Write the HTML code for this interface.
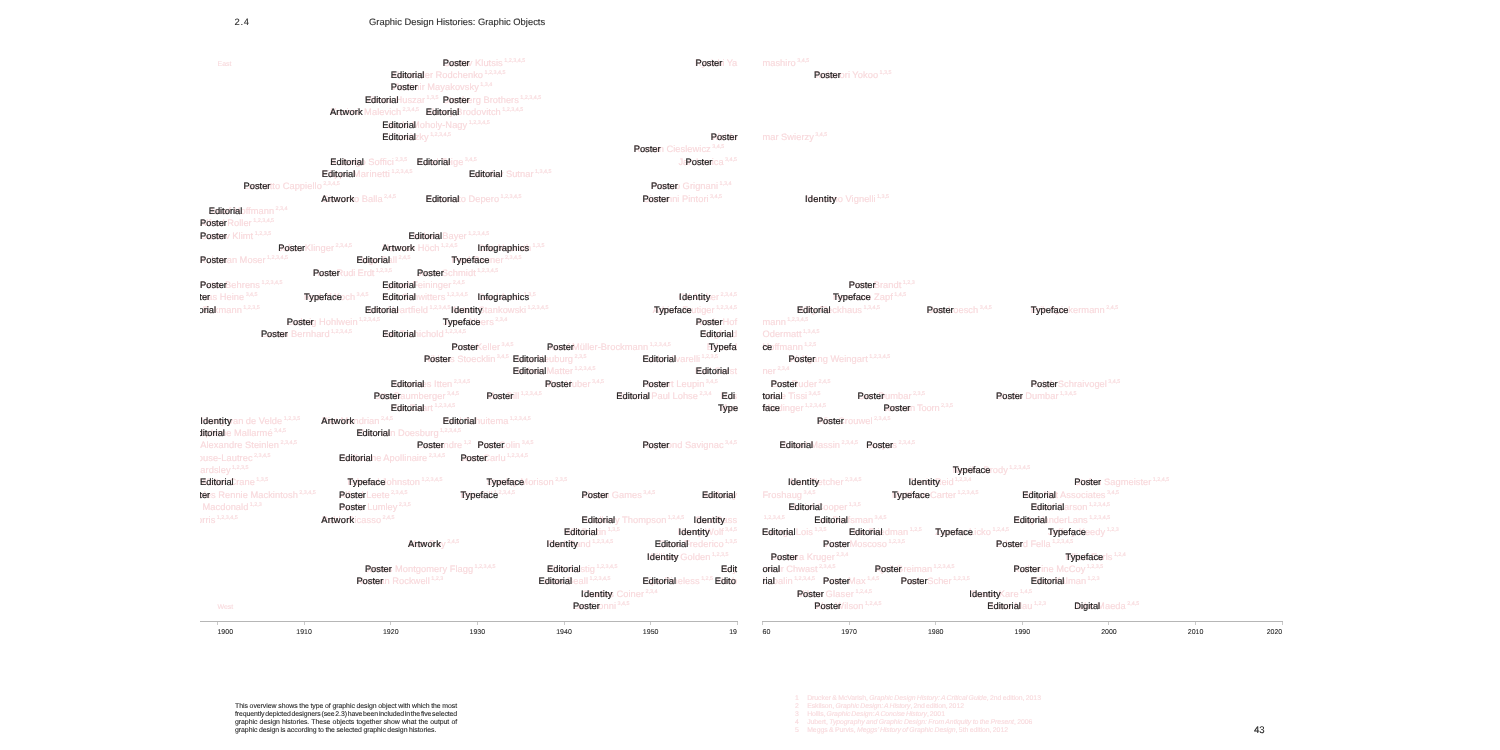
<!DOCTYPE html>
<html lang="en">
<head>
<meta charset="utf-8">
<title>Graphic Design Histories: Graphic Objects</title>
<style>
*{margin:0;padding:0;box-sizing:border-box}
html,body{width:1500px;height:750px;background:#fff;overflow:hidden}
body{position:relative;font-family:"Liberation Sans",Arial,Helvetica,sans-serif;color:#222;text-rendering:geometricPrecision}
.pg{position:absolute;top:0;height:750px;overflow:hidden}
#pl{left:200.0px;width:537.8px}
#pr{left:761.9px;width:521.0px}
.n,.l{position:absolute;white-space:nowrap;font-size:9.3px;line-height:12px;height:12px}
.n{color:#f8d9dc;-webkit-text-stroke:.14px #f8d9dc;letter-spacing:.05px;word-spacing:-.15px}
.n sup{font-size:5.4px;line-height:0;vertical-align:4px;margin-left:1.4px;letter-spacing:0}
.n.e sup{position:absolute;left:100%;vertical-align:0;line-height:0;top:4.35px}
.l{color:#1a1a1a;-webkit-text-stroke:.2px #1a1a1a}
.ar{letter-spacing:.22px;margin-left:-.4px}
.id{letter-spacing:.2px;margin-left:-.5px}
.in{letter-spacing:.09px}
.ax{position:absolute;height:1px;background:#b6b6b6;top:621px}
.tk{position:absolute;width:1px;height:3px;background:#cacaca;top:622px}
.yl{position:absolute;top:628px;font-size:7px;line-height:9px;height:9px;color:#2a2a2a;-webkit-text-stroke:.1px #2a2a2a;white-space:nowrap}
.hd{position:absolute;top:16px;font-size:9.4px;line-height:12px;height:12px;color:#2e2e2e;-webkit-text-stroke:.12px #2e2e2e;white-space:nowrap}
.ew{position:absolute;font-size:7px;line-height:9px;height:9px;color:#f8dadd;-webkit-text-stroke:.1px #f8dadd;white-space:nowrap}
.cp,.rf{position:absolute;font-size:6.9px;line-height:8px;height:8px;white-space:nowrap}
.cp{left:235px;color:#262626;-webkit-text-stroke:.1px #262626}
.rf{left:807.2px;color:#f8dadd;-webkit-text-stroke:.1px #f8dadd}
.rf b{position:absolute;left:-12.2px;font-weight:normal;letter-spacing:0}
#pn{position:absolute;left:1253.9px;top:725px;font-size:9.6px;line-height:12px;height:12px;color:#222;-webkit-text-stroke:.12px #222}
</style>
</head>
<body>
<div class="hd" style="left:234.6px;letter-spacing:.7px">2.4</div>
<div class="hd" style="left:369px">Graphic Design Histories: Graphic Objects</div>
<div class="pg" id="pl">
<div class="ew" style="left:17.47px;top:60.00px">East</div>
<div class="ew" style="left:17.47px;top:603.00px">West</div>
<div class="n" style="left:242.80px;top:57px">Gustav Klutsis<sup>1,2,3,4,5</sup></div>
<div class="n" style="right:0.70px;top:57px;letter-spacing:-0.12px">Ryuichi Ya</div>
<div class="n" style="left:190.80px;top:69px">Alexander Rodchenko<sup>1,2,3,4,5</sup></div>
<div class="n" style="left:190.80px;top:81px">Vladimir Mayakovsky<sup>1,3,4</sup></div>
<div class="n" style="left:164.90px;top:94px">Vilmos Huszar<sup>1,3,5</sup></div>
<div class="n" style="left:242.80px;top:94px">Stenberg Brothers<sup>1,2,3,4,5</sup></div>
<div class="n" style="left:130.30px;top:106px">Kazimir Malevich<sup>2,3,4,5</sup></div>
<div class="n" style="left:225.70px;top:106px">Alexey Brodovitch<sup>1,2,3,4,5</sup></div>
<div class="n" style="left:182.30px;top:119px">László Moholy-Nagy<sup>1,2,3,4,5</sup></div>
<div class="n" style="left:182.30px;top:131px">El Lissitzky<sup>1,2,3,4,5</sup></div>
<div class="n" style="right:0.70px;top:131px">Walde</div>
<div class="n" style="left:433.70px;top:143px">Roman Cieslewicz<sup>3,4,5</sup></div>
<div class="n" style="left:130.30px;top:156px">Ardengo Soffici<sup>2,3,5</sup></div>
<div class="n" style="left:216.70px;top:156px">Karel Teige<sup>3,4,5</sup></div>
<div class="n" style="right:0.70px;top:156px">Jan Lenica<sup>3,4,5</sup></div>
<div class="n" style="left:121.70px;top:168px;letter-spacing:0.17px">Filippo Marinetti<sup>1,2,3,4,5</sup></div>
<div class="n" style="left:268.90px;top:168px">Ladislav Sutnar<sup>1,3,4,5</sup></div>
<div class="n" style="left:43.60px;top:180px">Leonetto Cappiello<sup>2,3,4,5</sup></div>
<div class="n" style="left:450.90px;top:180px">Franco Grignani<sup>1,3,4</sup></div>
<div class="n" style="left:121.70px;top:193px">Giacomo Balla<sup>2,4,5</sup></div>
<div class="n" style="left:225.70px;top:193px">Fortunato Depero<sup>1,2,3,4,5</sup></div>
<div class="n" style="left:442.40px;top:193px">Giovanni Pintori<sup>3,4,5</sup></div>
<div class="n" style="left:8.70px;top:205px">Josef Hoffmann<sup>2,3,4</sup></div>
<div class="n" style="left:0.10px;top:217px">Alfred Roller<sup>1,2,3,4,5</sup></div>
<div class="n" style="left:0.10px;top:230px">Gustav Klimt<sup>1,2,3,5</sup></div>
<div class="n" style="left:208.40px;top:230px">Herbert Bayer<sup>1,2,3,4,5</sup></div>
<div class="n" style="left:78.30px;top:242px">Julius Klinger<sup>2,3,4,5</sup></div>
<div class="n" style="left:182.30px;top:242px">Hannah Höch<sup>1,2,4,5</sup></div>
<div class="n" style="left:277.50px;top:242px">Otto Neurath<sup>1,3,5</sup></div>
<div class="n" style="left:0.10px;top:254px">Koloman Moser<sup>1,2,3,4,5</sup></div>
<div class="n" style="left:156.40px;top:254px">Hugo Ball<sup>2,4,5</sup></div>
<div class="n" style="left:251.60px;top:254px">Paul Renner<sup>2,3,4,5</sup></div>
<div class="n" style="left:112.90px;top:267px;letter-spacing:-0.1px">Hans Rudi Erdt<sup>1,2,3,5</sup></div>
<div class="n" style="left:216.90px;top:267px">Joost Schmidt<sup>1,2,3,4,5</sup></div>
<div class="n" style="left:0.10px;top:279px">Peter Behrens<sup>1,2,3,4,5</sup></div>
<div class="n" style="left:182.30px;top:279px">Lyonel Feininger<sup>2,4,5</sup></div>
<div class="n" style="left:-16.70px;top:291px">Thomas Heine<sup>3,4,5</sup></div>
<div class="n" style="left:104.10px;top:291px">Rudolf Koch<sup>3,4,5</sup></div>
<div class="n" style="left:182.30px;top:291px">Kurt Schwitters<sup>1,2,3,4,5</sup></div>
<div class="n" style="left:277.50px;top:291px">Gerd Arntz<sup>1,3,5</sup></div>
<div class="n" style="right:0.70px;top:291px">Otl Aicher<sup>2,3,4,5</sup></div>
<div class="n" style="left:-17.50px;top:304px">Otto Eckmann<sup>1,2,3,5</sup></div>
<div class="n" style="left:164.90px;top:304px">John Heartfield<sup>1,2,3,4,5</sup></div>
<div class="n" style="left:251.60px;top:304px">Anton Stankowski<sup>1,2,3,4,5</sup></div>
<div class="n" style="right:0.70px;top:304px">Adrian Frutiger<sup>1,2,3,4,5</sup></div>
<div class="n" style="left:86.80px;top:316px">Ludwig Hohlwein<sup>1,2,3,4,5</sup></div>
<div class="n" style="left:242.80px;top:316px">Josef Albers<sup>2,3,4</sup></div>
<div class="n" style="right:0.70px;top:316px">Armin Hof</div>
<div class="n" style="left:60.90px;top:328px">Lucian Bernhard<sup>1,2,3,4,5</sup></div>
<div class="n" style="left:182.30px;top:328px">Jan Tschichold<sup>1,2,3,4,5</sup></div>
<div class="n" style="right:0.70px;top:328px">Siegfried</div>
<div class="n" style="left:251.60px;top:341px">Ernst Keller<sup>3,4,5</sup></div>
<div class="n" style="left:347.10px;top:341px">Josef Müller-Brockmann<sup>1,2,3,4,5</sup></div>
<div class="n" style="right:0.70px;top:341px">Eduard</div>
<div class="n" style="left:223.90px;top:353px">Niklaus Stoecklin<sup>3,4,5</sup></div>
<div class="n" style="left:312.70px;top:353px">Hans Neuburg<sup>2,3,5</sup></div>
<div class="n" style="left:442.40px;top:353px">Carlo Vivarelli<sup>1,2,3,5</sup></div>
<div class="n" style="left:312.70px;top:365px">Herbert Matter<sup>1,2,3,4,5</sup></div>
<div class="n" style="right:0.70px;top:365px">Karl Gerst</div>
<div class="n" style="left:190.80px;top:378px">Johannes Itten<sup>2,3,4,5</sup></div>
<div class="n" style="left:344.90px;top:378px">Max Huber<sup>3,4,5</sup></div>
<div class="n" style="left:442.40px;top:378px">Herbert Leupin<sup>3,4,5</sup></div>
<div class="n" style="left:173.70px;top:390px">Otto Baumberger<sup>3,4,5</sup></div>
<div class="n" style="left:286.50px;top:390px">Max Bill<sup>1,2,3,4,5</sup></div>
<div class="n" style="left:416.30px;top:390px">Richard Paul Lohse<sup>2,3,4</sup></div>
<div class="n" style="right:0.70px;top:390px">Ros</div>
<div class="n" style="left:190.80px;top:402px">Piet Zwart<sup>1,2,3,4,5</sup></div>
<div class="n" style="right:0.70px;top:402px">Max</div>
<div class="n" style="left:0.70px;top:415px">Henry van de Velde<sup>1,2,3,5</sup></div>
<div class="n" style="left:121.70px;top:415px">Piet Mondrian<sup>2,4,5</sup></div>
<div class="n" style="left:242.80px;top:415px">Paul Schuitema<sup>1,2,3,4,5</sup></div>
<div class="n" style="left:-8.70px;top:427px">Stéphane Mallarmé<sup>3,4,5</sup></div>
<div class="n" style="left:156.40px;top:427px">Theo van Doesburg<sup>1,2,3,4,5</sup></div>
<div class="n e" style="right:458.80px;top:439px">Théophile Alexandre Steinlen<sup>2,3,4,5</sup></div>
<div class="n" style="left:216.90px;top:439px">Cassandre<sup>1,2</sup></div>
<div class="n" style="left:277.50px;top:439px">Paul Colin<sup>3,4,5</sup></div>
<div class="n" style="left:442.40px;top:439px">Raymond Savignac<sup>3,4,5</sup></div>
<div class="n e" style="right:485.20px;top:452px">Henri de Toulouse-Lautrec<sup>2,3,4,5</sup></div>
<div class="n" style="left:139.10px;top:452px">Guillaume Apollinaire<sup>2,3,4,5</sup></div>
<div class="n" style="left:260.40px;top:452px">Jean Carlu<sup>1,2,3,4,5</sup></div>
<div class="n e" style="right:507.20px;top:464px">Aubrey Beardsley<sup>1,2,3,5</sup></div>
<div class="n" style="left:0.10px;top:476px">Walter Crane<sup>1,3,5</sup></div>
<div class="n" style="left:147.60px;top:476px">Edward Johnston<sup>1,2,3,4,5</sup></div>
<div class="n" style="left:286.50px;top:476px">Stanley Morison<sup>2,3,5</sup></div>
<div class="n" style="left:-16.70px;top:489px">Charles Rennie Mackintosh<sup>2,3,4,5</sup></div>
<div class="n" style="left:139.10px;top:489px">Alfred Leete<sup>2,3,4,5</sup></div>
<div class="n" style="left:260.40px;top:489px">Eric Gill<sup>1,2,3,4,5</sup></div>
<div class="n" style="left:381.60px;top:489px">Abram Games<sup>3,4,5</sup></div>
<div class="n" style="right:0.70px;top:489px">Anthony</div>
<div class="n e" style="right:489.40px;top:501px">Margaret Macdonald<sup>1,2,3</sup></div>
<div class="n" style="left:139.10px;top:501px">Savile Lumley<sup>2,3,5</sup></div>
<div class="n e" style="right:522.40px;top:514px">William Morris<sup>1,2,3,4,5</sup></div>
<div class="n" style="left:121.70px;top:514px">Pablo Picasso<sup>2,4,5</sup></div>
<div class="n" style="left:381.60px;top:514px">Bradbury Thompson<sup>1,2,4,5</sup></div>
<div class="n" style="right:0.70px;top:514px">Saul Bass</div>
<div class="n" style="left:364.10px;top:526px">Will Burtin<sup>1,3,5</sup></div>
<div class="n" style="right:0.70px;top:526px">Henry Wolf<sup>3,4,5</sup></div>
<div class="n" style="left:208.40px;top:538px">Man Ray<sup>2,4,5</sup></div>
<div class="n" style="left:347.10px;top:538px">Paul Rand<sup>1,2,3,4,5</sup></div>
<div class="n" style="right:0.70px;top:538px">Gene Frederico<sup>1,3,5</sup></div>
<div class="n" style="left:447.50px;top:551px">William Golden<sup>1,2,3,5</sup></div>
<div class="n" style="left:164.90px;top:563px">James Montgomery Flagg<sup>1,2,3,4,5</sup></div>
<div class="n" style="left:347.10px;top:563px">Alvin Lustig<sup>1,2,3,4,5</sup></div>
<div class="n" style="right:0.70px;top:563px">Sey</div>
<div class="n" style="left:156.40px;top:575px">Norman Rockwell<sup>1,2,3</sup></div>
<div class="n" style="left:338.50px;top:575px">Lester Beall<sup>1,2,3,4,5</sup></div>
<div class="n" style="left:442.40px;top:575px">Cipe Pineless<sup>1,2,5</sup></div>
<div class="n" style="right:0.70px;top:575px">Herb</div>
<div class="n" style="left:381.60px;top:588px">Charles Coiner<sup>2,3,4</sup></div>
<div class="n" style="left:372.90px;top:600px">Leo Lionni<sup>3,4,5</sup></div>
<div class="l po" style="left:242.80px;top:57px">Poster</div>
<div class="l po" style="left:495.50px;top:57px">Poster</div>
<div class="l ed" style="left:190.80px;top:69px">Editorial</div>
<div class="l po" style="left:190.80px;top:81px">Poster</div>
<div class="l ed" style="left:164.90px;top:94px">Editorial</div>
<div class="l po" style="left:242.80px;top:94px">Poster</div>
<div class="l ar" style="left:130.30px;top:106px">Artwork</div>
<div class="l ed" style="left:225.70px;top:106px">Editorial</div>
<div class="l ed" style="left:182.30px;top:119px">Editorial</div>
<div class="l ed" style="left:182.30px;top:131px">Editorial</div>
<div class="l po" style="left:510.70px;top:131px">Poster</div>
<div class="l po" style="left:433.70px;top:143px">Poster</div>
<div class="l ed" style="left:130.30px;top:156px">Editorial</div>
<div class="l ed" style="left:216.70px;top:156px">Editorial</div>
<div class="l po" style="left:485.60px;top:156px">Poster</div>
<div class="l ed" style="left:121.70px;top:168px">Editorial</div>
<div class="l ed" style="left:268.90px;top:168px">Editorial</div>
<div class="l po" style="left:43.60px;top:180px">Poster</div>
<div class="l po" style="left:450.90px;top:180px">Poster</div>
<div class="l ar" style="left:121.70px;top:193px">Artwork</div>
<div class="l ed" style="left:225.70px;top:193px">Editorial</div>
<div class="l po" style="left:442.40px;top:193px">Poster</div>
<div class="l ed" style="left:8.70px;top:205px">Editorial</div>
<div class="l po" style="left:0.10px;top:217px">Poster</div>
<div class="l po" style="left:0.10px;top:230px">Poster</div>
<div class="l ed" style="left:208.40px;top:230px">Editorial</div>
<div class="l po" style="left:78.30px;top:242px">Poster</div>
<div class="l ar" style="left:182.30px;top:242px">Artwork</div>
<div class="l in" style="left:277.50px;top:242px">Infographics</div>
<div class="l po" style="left:0.10px;top:254px">Poster</div>
<div class="l ed" style="left:156.40px;top:254px">Editorial</div>
<div class="l ty" style="left:251.60px;top:254px">Typeface</div>
<div class="l po" style="left:112.90px;top:267px">Poster</div>
<div class="l po" style="left:216.90px;top:267px">Poster</div>
<div class="l po" style="left:0.10px;top:279px">Poster</div>
<div class="l ed" style="left:182.30px;top:279px">Editorial</div>
<div class="l po" style="left:-16.70px;top:291px">Poster</div>
<div class="l ty" style="left:104.10px;top:291px">Typeface</div>
<div class="l ed" style="left:182.30px;top:291px">Editorial</div>
<div class="l in" style="left:277.50px;top:291px">Infographics</div>
<div class="l id" style="left:479.60px;top:291px">Identity</div>
<div class="l ed" style="left:-17.50px;top:304px">Editorial</div>
<div class="l ed" style="left:164.90px;top:304px">Editorial</div>
<div class="l id" style="left:251.60px;top:304px">Identity</div>
<div class="l ty" style="left:454.00px;top:304px">Typeface</div>
<div class="l po" style="left:86.80px;top:316px">Poster</div>
<div class="l ty" style="left:242.80px;top:316px">Typeface</div>
<div class="l po" style="left:495.70px;top:316px">Poster</div>
<div class="l po" style="left:60.90px;top:328px">Poster</div>
<div class="l ed" style="left:182.30px;top:328px">Editorial</div>
<div class="l ed" style="left:500.00px;top:328px">Editorial</div>
<div class="l po" style="left:251.60px;top:341px">Poster</div>
<div class="l po" style="left:347.10px;top:341px">Poster</div>
<div class="l ty" style="left:508.70px;top:341px">Typefa</div>
<div class="l po" style="left:223.90px;top:353px">Poster</div>
<div class="l ed" style="left:312.70px;top:353px">Editorial</div>
<div class="l ed" style="left:442.40px;top:353px">Editorial</div>
<div class="l ed" style="left:312.70px;top:365px">Editorial</div>
<div class="l ed" style="left:495.70px;top:365px">Editorial</div>
<div class="l ed" style="left:190.80px;top:378px">Editorial</div>
<div class="l po" style="left:344.90px;top:378px">Poster</div>
<div class="l po" style="left:442.40px;top:378px">Poster</div>
<div class="l po" style="left:173.70px;top:390px">Poster</div>
<div class="l po" style="left:286.50px;top:390px">Poster</div>
<div class="l ed" style="left:416.30px;top:390px">Editorial</div>
<div class="l ed" style="left:521.60px;top:390px">Edi</div>
<div class="l ed" style="left:190.80px;top:402px">Editorial</div>
<div class="l ty" style="left:517.90px;top:402px">Type</div>
<div class="l id" style="left:0.70px;top:415px">Identity</div>
<div class="l ar" style="left:121.70px;top:415px">Artwork</div>
<div class="l ed" style="left:242.80px;top:415px">Editorial</div>
<div class="l ed" style="left:-8.70px;top:427px">Editorial</div>
<div class="l ed" style="left:156.40px;top:427px">Editorial</div>
<div class="l po" style="left:216.90px;top:439px">Poster</div>
<div class="l po" style="left:277.50px;top:439px">Poster</div>
<div class="l po" style="left:442.40px;top:439px">Poster</div>
<div class="l ed" style="left:139.10px;top:452px">Editorial</div>
<div class="l po" style="left:260.40px;top:452px">Poster</div>
<div class="l ed" style="left:0.10px;top:476px">Editorial</div>
<div class="l ty" style="left:147.60px;top:476px">Typeface</div>
<div class="l ty" style="left:286.50px;top:476px">Typeface</div>
<div class="l po" style="left:-16.70px;top:489px">Poster</div>
<div class="l po" style="left:139.10px;top:489px">Poster</div>
<div class="l ty" style="left:260.40px;top:489px">Typeface</div>
<div class="l po" style="left:381.60px;top:489px">Poster</div>
<div class="l ed" style="left:501.90px;top:489px">Editorial</div>
<div class="l po" style="left:139.10px;top:501px">Poster</div>
<div class="l ar" style="left:121.70px;top:514px">Artwork</div>
<div class="l ed" style="left:381.60px;top:514px">Editorial</div>
<div class="l id" style="left:494.10px;top:514px">Identity</div>
<div class="l ed" style="left:364.10px;top:526px">Editorial</div>
<div class="l id" style="left:478.90px;top:526px">Identity</div>
<div class="l ar" style="left:208.40px;top:538px">Artwork</div>
<div class="l id" style="left:347.10px;top:538px">Identity</div>
<div class="l ed" style="left:454.70px;top:538px">Editorial</div>
<div class="l id" style="left:447.50px;top:551px">Identity</div>
<div class="l po" style="left:164.90px;top:563px">Poster</div>
<div class="l ed" style="left:347.10px;top:563px">Editorial</div>
<div class="l ed" style="left:521.10px;top:563px">Edit</div>
<div class="l po" style="left:156.40px;top:575px">Poster</div>
<div class="l ed" style="left:338.50px;top:575px">Editorial</div>
<div class="l ed" style="left:442.40px;top:575px">Editorial</div>
<div class="l ed" style="left:514.70px;top:575px">Edito</div>
<div class="l id" style="left:381.60px;top:588px">Identity</div>
<div class="l po" style="left:372.90px;top:600px">Poster</div>
<div class="ax" style="left:0;width:537.80px"></div>
<div class="tk" style="left:16.97px"></div>
<div class="yl" style="left:17.47px">1900</div>
<div class="tk" style="left:103.61px"></div>
<div class="yl" style="left:104.11px;transform:translateX(-50%)">1910</div>
<div class="tk" style="left:190.25px"></div>
<div class="yl" style="left:190.75px;transform:translateX(-50%)">1920</div>
<div class="tk" style="left:276.89px"></div>
<div class="yl" style="left:277.39px;transform:translateX(-50%)">1930</div>
<div class="tk" style="left:363.53px"></div>
<div class="yl" style="left:364.03px;transform:translateX(-50%)">1940</div>
<div class="tk" style="left:450.17px"></div>
<div class="yl" style="left:450.67px;transform:translateX(-50%)">1950</div>
<div class="tk" style="left:536.80px"></div>
<div class="yl" style="right:0.8px">19</div>
</div>
<div class="pg" id="pr">
<div class="n" style="left:0.50px;top:57px">mashiro<sup>3,4,5</sup></div>
<div class="n" style="left:0.50px;top:131px">mar Swierzy<sup>3,4,5</sup></div>
<div class="n" style="left:0.50px;top:316px">mann<sup>1,2,3,4,5</sup></div>
<div class="n" style="left:0.50px;top:328px">Odermatt<sup>1,3,4,5</sup></div>
<div class="n" style="left:0.50px;top:341px">Hoffmann<sup>1,2,5</sup></div>
<div class="n" style="left:0.50px;top:365px">ner<sup>2,3,4</sup></div>
<div class="n" style="left:0.50px;top:390px">marie Tissi<sup>3,4,5</sup></div>
<div class="n" style="left:0.50px;top:402px">Miedinger<sup>1,2,3,4,5</sup></div>
<div class="n" style="left:0.50px;top:489px">Froshaug<sup>3,4,5</sup></div>
<div class="n" style="left:0.50px;top:514px"><sup>1,2,3,4,5</sup></div>
<div class="n" style="left:0.50px;top:563px">mour Chwast<sup>2,3,4,5</sup></div>
<div class="n" style="left:0.50px;top:575px">Lubalin<sup>1,2,3,4,5</sup></div>
<div class="n" style="left:52.10px;top:69px">Tadanori Yokoo<sup>1,3,5</sup></div>
<div class="n" style="left:43.60px;top:193px">Massimo Vignelli<sup>1,3,5</sup></div>
<div class="n" style="left:86.80px;top:279px">Peter Brandt<sup>1,2,3</sup></div>
<div class="n" style="left:71.00px;top:291px">Hermann Zapf<sup>1,4,5</sup></div>
<div class="n" style="left:35.00px;top:304px">Willy Fleckhaus<sup>1,3,4,5</sup></div>
<div class="n" style="left:164.90px;top:304px">Uwe Loesch<sup>3,4,5</sup></div>
<div class="n" style="left:268.90px;top:304px">Erik Spiekermann<sup>2,4,5</sup></div>
<div class="n" style="left:26.50px;top:353px">Wolfgang Weingart<sup>1,2,3,4,5</sup></div>
<div class="n" style="left:8.90px;top:378px">Emil Ruder<sup>2,4,5</sup></div>
<div class="n" style="left:268.90px;top:378px">Ralph Schraivogel<sup>3,4,5</sup></div>
<div class="n" style="left:95.60px;top:390px">Gert Dumbar<sup>2,3,5</sup></div>
<div class="n" style="left:234.20px;top:390px">Studio Dumbar<sup>1,3,4,5</sup></div>
<div class="n" style="left:121.70px;top:402px;letter-spacing:-0.15px">Jan van Toorn<sup>2,3,5</sup></div>
<div class="n" style="left:55.00px;top:415px">Wim Crouwel<sup>2,3,4,5</sup></div>
<div class="n" style="left:17.70px;top:439px">Robert Massin<sup>2,3,4,5</sup></div>
<div class="n" style="left:104.40px;top:439px">Grapus<sup>2,3,4,5</sup></div>
<div class="n" style="left:190.80px;top:464px">Neville Brody<sup>1,2,3,4,5</sup></div>
<div class="n" style="left:26.50px;top:476px">Alan Fletcher<sup>2,3,4,5</sup></div>
<div class="n" style="left:147.20px;top:476px;letter-spacing:-0.2px">Jamie Reid<sup>1,2,3,4</sup></div>
<div class="n" style="left:312.40px;top:476px">Stefan Sagmeister<sup>1,2,4,5</sup></div>
<div class="n" style="left:130.20px;top:489px">Matthew Carter<sup>1,2,3,4,5</sup></div>
<div class="n" style="left:260.40px;top:489px">Why Not Associates<sup>3,4,5</sup></div>
<div class="n" style="left:26.50px;top:501px">Muriel Cooper<sup>1,3,5</sup></div>
<div class="n" style="left:268.90px;top:501px">David Carson<sup>1,2,3,4,5</sup></div>
<div class="n" style="left:52.40px;top:514px">Lou Dorfsman<sup>3,4,5</sup></div>
<div class="n" style="left:251.60px;top:514px">Rudy VanderLans<sup>1,2,3,4,5</sup></div>
<div class="n" style="left:0.10px;top:526px">George Lois<sup>1,3,5</sup></div>
<div class="n" style="left:87.00px;top:526px">Dan Friedman<sup>1,2,5</sup></div>
<div class="n" style="left:173.40px;top:526px">Zuzana Licko<sup>1,2,4,5</sup></div>
<div class="n" style="left:286.20px;top:526px">Jeffery Keedy<sup>1,2,3</sup></div>
<div class="n" style="left:61.20px;top:538px">Victor Moscoso<sup>1,2,3,5</sup></div>
<div class="n" style="left:234.20px;top:538px">Edward Fella<sup>1,2,3,4,5</sup></div>
<div class="n" style="left:8.90px;top:551px">Barbara Kruger<sup>2,3,4</sup></div>
<div class="n" style="left:303.60px;top:551px">Elliott Earls<sup>1,2,4</sup></div>
<div class="n" style="left:112.90px;top:563px">April Greiman<sup>1,2,3,4,5</sup></div>
<div class="n" style="left:251.60px;top:563px">Katherine McCoy<sup>1,2,3,5</sup></div>
<div class="n" style="left:61.20px;top:575px">Peter Max<sup>1,4,5</sup></div>
<div class="n" style="left:138.80px;top:575px">Paula Scher<sup>1,2,3,5</sup></div>
<div class="n" style="left:268.90px;top:575px">Tibor Kalman<sup>1,2,3</sup></div>
<div class="n" style="left:35.00px;top:588px;letter-spacing:0.2px">Milton Glaser<sup>1,2,4,5</sup></div>
<div class="n" style="left:207.80px;top:588px">Susan Kare<sup>1,4,5</sup></div>
<div class="n" style="left:52.40px;top:600px">Wes Wilson<sup>1,2,4,5</sup></div>
<div class="n" style="left:225.40px;top:600px">Bruce Mau<sup>1,2,3</sup></div>
<div class="n" style="left:312.40px;top:600px">John Maeda<sup>2,4,5</sup></div>
<div class="l ty" style="left:0.50px;top:341px">ce</div>
<div class="l ed" style="left:0.50px;top:390px">torial</div>
<div class="l ty" style="left:0.50px;top:402px">face</div>
<div class="l ed" style="left:0.50px;top:563px">orial</div>
<div class="l ed" style="left:0.50px;top:575px">rial</div>
<div class="l po" style="left:52.10px;top:69px">Poster</div>
<div class="l id" style="left:43.60px;top:193px">Identity</div>
<div class="l po" style="left:86.80px;top:279px">Poster</div>
<div class="l ty" style="left:71.00px;top:291px">Typeface</div>
<div class="l ed" style="left:35.00px;top:304px">Editorial</div>
<div class="l po" style="left:164.90px;top:304px">Poster</div>
<div class="l ty" style="left:268.90px;top:304px">Typeface</div>
<div class="l po" style="left:26.50px;top:353px">Poster</div>
<div class="l po" style="left:8.90px;top:378px">Poster</div>
<div class="l po" style="left:268.90px;top:378px">Poster</div>
<div class="l po" style="left:95.60px;top:390px">Poster</div>
<div class="l po" style="left:234.20px;top:390px">Poster</div>
<div class="l po" style="left:121.70px;top:402px">Poster</div>
<div class="l po" style="left:55.00px;top:415px">Poster</div>
<div class="l ed" style="left:17.70px;top:439px">Editorial</div>
<div class="l po" style="left:104.40px;top:439px">Poster</div>
<div class="l ty" style="left:190.80px;top:464px">Typeface</div>
<div class="l id" style="left:26.50px;top:476px">Identity</div>
<div class="l id" style="left:147.20px;top:476px">Identity</div>
<div class="l po" style="left:312.40px;top:476px">Poster</div>
<div class="l ty" style="left:130.20px;top:489px">Typeface</div>
<div class="l ed" style="left:260.40px;top:489px">Editorial</div>
<div class="l ed" style="left:26.50px;top:501px">Editorial</div>
<div class="l ed" style="left:268.90px;top:501px">Editorial</div>
<div class="l ed" style="left:52.40px;top:514px">Editorial</div>
<div class="l ed" style="left:251.60px;top:514px">Editorial</div>
<div class="l ed" style="left:0.10px;top:526px">Editorial</div>
<div class="l ed" style="left:87.00px;top:526px">Editorial</div>
<div class="l ty" style="left:173.40px;top:526px">Typeface</div>
<div class="l ty" style="left:286.20px;top:526px">Typeface</div>
<div class="l po" style="left:61.20px;top:538px">Poster</div>
<div class="l po" style="left:234.20px;top:538px">Poster</div>
<div class="l po" style="left:8.90px;top:551px">Poster</div>
<div class="l ty" style="left:303.60px;top:551px">Typeface</div>
<div class="l po" style="left:112.90px;top:563px">Poster</div>
<div class="l po" style="left:251.60px;top:563px">Poster</div>
<div class="l po" style="left:61.20px;top:575px">Poster</div>
<div class="l po" style="left:138.80px;top:575px">Poster</div>
<div class="l ed" style="left:268.90px;top:575px">Editorial</div>
<div class="l po" style="left:35.00px;top:588px">Poster</div>
<div class="l id" style="left:207.80px;top:588px">Identity</div>
<div class="l po" style="left:52.40px;top:600px">Poster</div>
<div class="l ed" style="left:225.40px;top:600px">Editorial</div>
<div class="l di" style="left:312.40px;top:600px">Digital</div>
<div class="ax" style="left:0;width:521.00px"></div>
<div class="tk" style="left:0.01px"></div>
<div class="yl" style="left:0.6px">60</div>
<div class="tk" style="left:86.65px"></div>
<div class="yl" style="left:87.15px;transform:translateX(-50%)">1970</div>
<div class="tk" style="left:173.29px"></div>
<div class="yl" style="left:173.79px;transform:translateX(-50%)">1980</div>
<div class="tk" style="left:259.93px"></div>
<div class="yl" style="left:260.43px;transform:translateX(-50%)">1990</div>
<div class="tk" style="left:346.57px"></div>
<div class="yl" style="left:347.07px;transform:translateX(-50%)">2000</div>
<div class="tk" style="left:433.21px"></div>
<div class="yl" style="left:433.71px;transform:translateX(-50%)">2010</div>
<div class="tk" style="left:519.85px"></div>
<div class="yl" style="right:0.7px">2020</div>
</div>
<div class="cp" style="top:703px;letter-spacing:-0.030px;word-spacing:-0.198px">This overview shows the type of graphic design object with which the most</div>
<div class="cp" style="top:711px;letter-spacing:-0.080px;word-spacing:-1.033px">frequently depicted designers (see 2.3) have been included in the five selected</div>
<div class="cp" style="top:719px;letter-spacing:-0.030px;word-spacing:0.344px">graphic design histories. These objects together show what the output of</div>
<div class="cp" style="top:727px;letter-spacing:-0.030px;word-spacing:-0.347px">graphic design is according to the selected graphic design histories.</div>
<div class="rf" style="top:695px;letter-spacing:-0.060px;word-spacing:-0.443px"><b>1</b>Drucker &amp; McVarish, <i>Graphic Design History: A Critical Guide</i>, 2nd edition, 2013</div>
<div class="rf" style="top:703px;letter-spacing:-0.060px;word-spacing:-0.713px"><b>2</b>Eskilson, <i>Graphic Design: A History</i>, 2nd edition, 2012</div>
<div class="rf" style="top:711px;letter-spacing:-0.060px;word-spacing:-0.812px"><b>3</b>Hollis, <i>Graphic Design: A Concise History</i>, 2001</div>
<div class="rf" style="top:719px;letter-spacing:-0.060px;word-spacing:-0.409px"><b>4</b>Jubert, <i>Typography and Graphic Design: From Antiquity to the Present</i>, 2006</div>
<div class="rf" style="top:727px;letter-spacing:-0.060px;word-spacing:-0.438px"><b>5</b>Meggs &amp; Purvis, <i>Meggs’ History of Graphic Design</i>, 5th edition, 2012</div>
<div id="pn">43</div>
</body>
</html>
